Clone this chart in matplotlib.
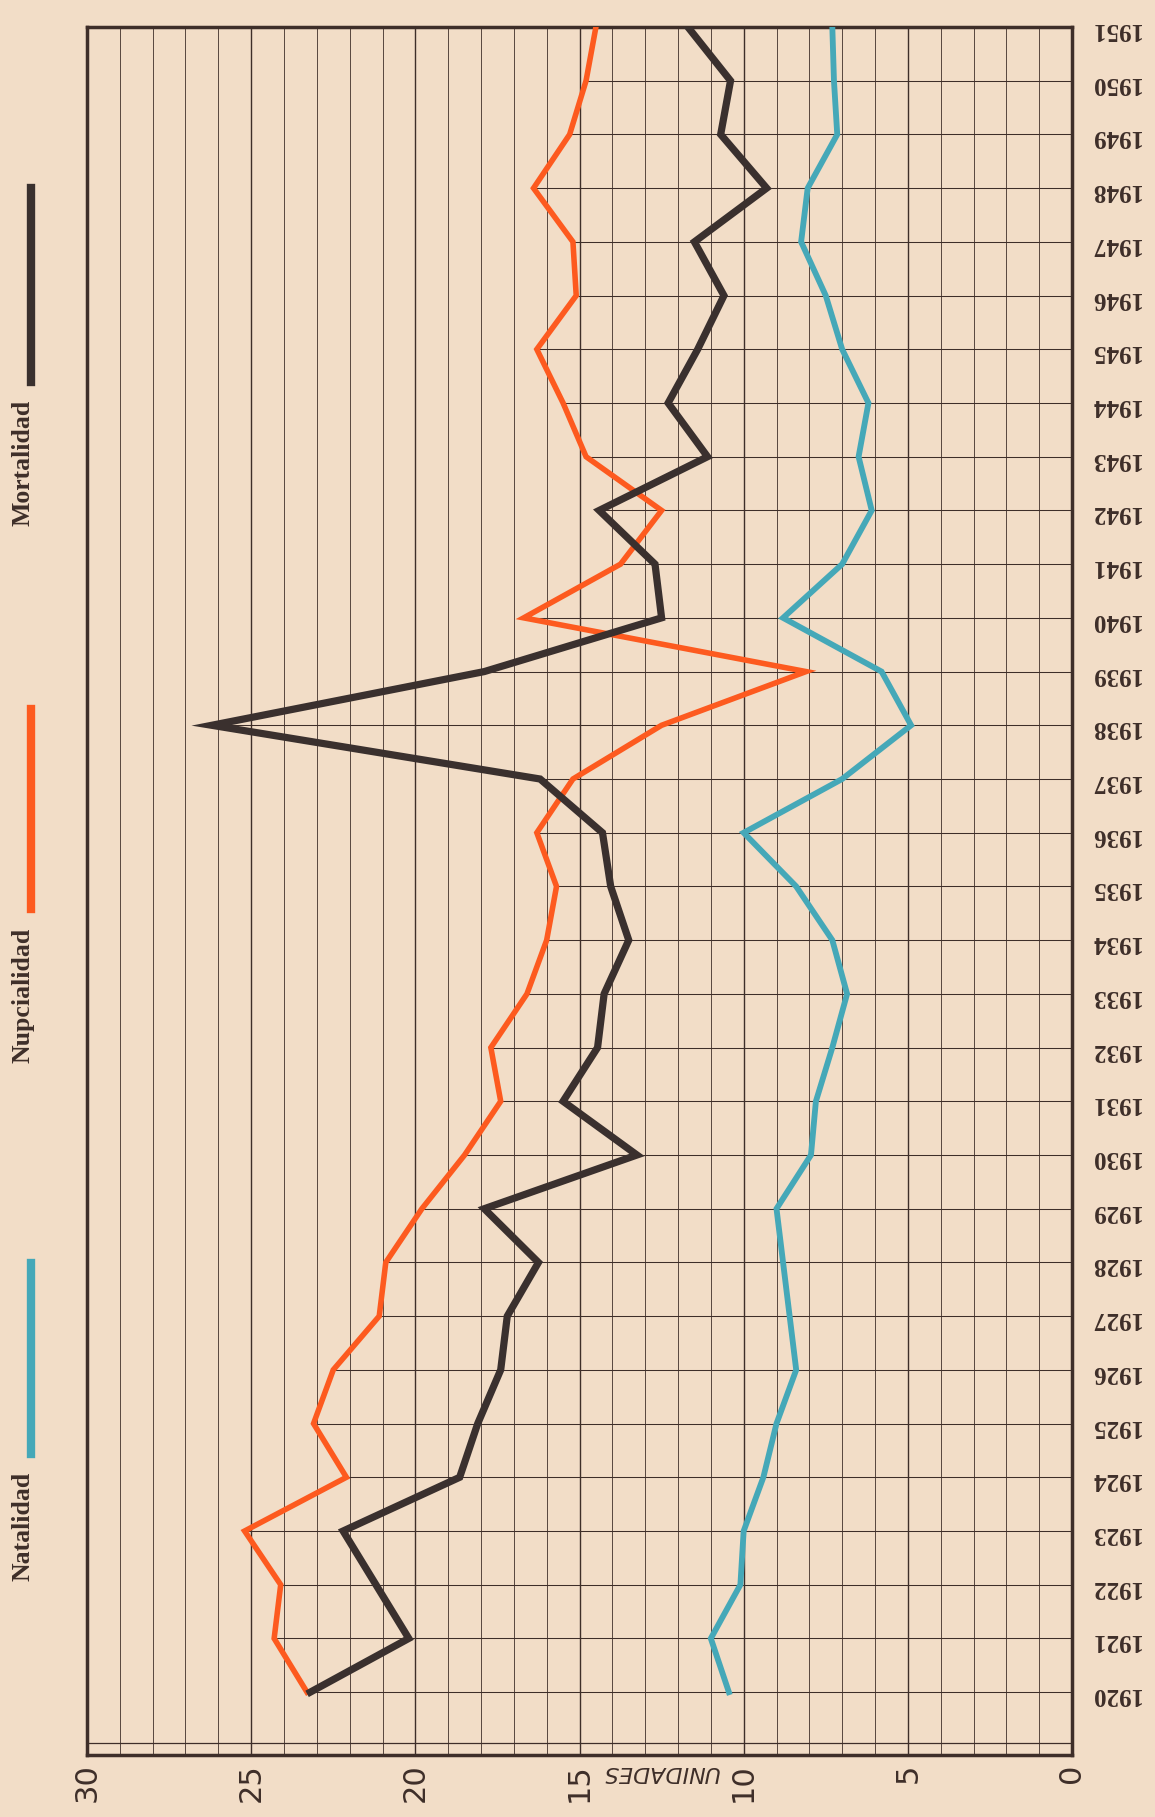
import numpy as np
import matplotlib.pyplot as plt
from matplotlib.lines import Line2D

years = list(range(1920, 1952))
natalidad = [10.45, 11.0, 10.1, 10.0, 9.4, 9.0, 8.4, 8.6, 8.8, 9.0,
             7.95, 7.8, 7.3, 6.85, 7.3, 8.4, 10.0, 7.0, 4.9, 5.8,
             8.8, 7.0, 6.1, 6.5, 6.2, 7.0, 7.5, 8.25, 8.05, 7.15,
             7.25, 7.3]
nupcialidad = [23.3, 24.3, 24.1, 25.2, 22.1, 23.1, 22.5, 21.1, 20.9, 19.8,
               18.5, 17.4, 17.7, 16.6, 16.0, 15.7, 16.3, 15.2, 12.5, 8.1,
               16.7, 13.75, 12.5, 14.8, 15.5, 16.3, 15.1, 15.2, 16.4, 15.3,
               14.8, 14.5]
mortalidad = [23.2, 20.2, 21.2, 22.2, 18.65, 18.1, 17.4, 17.2, 16.25, 17.9,
              13.25, 15.5, 14.45, 14.25, 13.5, 14.05, 14.3, 16.2, 26.2, 17.9,
              12.5, 12.7, 14.4, 11.1, 12.3, 11.4, 10.6, 11.5, 9.3, 10.7,
              10.4, 11.7]

series_names = ['Natalidad', 'Nupcialidad', 'Mortalidad']
value_ticks = [30, 25, 20, 15, 10, 5, 0]

paper = '#f2ddc7'
ink = '#3e2e29'
teal = '#45a8b8'
orange = '#fd5a1f'
black = '#3a302e'
colors = [teal, orange, black]

W, H = 1155, 1817
fig = plt.figure(figsize=(W / 100, H / 100), dpi=100, facecolor=paper)
ax = fig.add_axes([87 / W, 1 - 1755 / H, (1072 - 87) / W, (1755 - 27) / H])
ax.set_facecolor(paper)
ax.set_xlim(30, 0)
ax.set_ylim(1918.83, 1951)

# grid: every unit, a bit heavier every 5
for v in range(1, 30):
    ax.axvline(v, color=ink, lw=1.0 if v % 5 == 0 else 0.6, zorder=1)

# year lines only run from the axis up to the highest series
top = np.max([natalidad, nupcialidad, mortalidad], axis=0)
ax.hlines(years[:-1], 0, top[:-1], color=ink, lw=0.75, zorder=1)
ax.axhline(1919.05, color=ink, lw=0.9, zorder=1)

for s in ax.spines.values():
    s.set_color(ink)
    s.set_linewidth(2.5)

for vals, c, lw in zip([natalidad, nupcialidad, mortalidad], colors, [4.2, 4.0, 5.2]):
    ax.plot(vals, years, color=c, lw=lw, solid_joinstyle='miter', zorder=3)

ax.yaxis.tick_right()
ax.set_yticks(years)
ax.set_yticklabels([str(y) for y in years], rotation=180, fontsize=18,
                   family='Liberation Serif', weight='bold', color=ink)
ax.tick_params(axis='y', length=0, pad=13)

ax.set_xticks(value_ticks)
ax.set_xticklabels([str(v) for v in value_ticks], rotation=90, fontsize=22,
                   family='DejaVu Sans', color=ink)
ax.tick_params(axis='x', length=0, pad=6)

ax.text(12.55, -0.0098, 'UNIDADES', transform=ax.get_xaxis_transform(),
        rotation=180, style='italic', fontsize=16, ha='center', va='center',
        color=ink, family='DejaVu Sans')

# legend on the left edge
text_y = [1526, 995, 463]
seg_y = [(1263, 1454), (709, 909), (188, 382)]
for name, c, ty, (y0, y1) in zip(series_names, colors, text_y, seg_y):
    fig.text(23 / W, 1 - ty / H, name, rotation=90, ha='center', va='center',
             fontsize=18.5, family='Liberation Serif', weight='bold', color=ink)
    fig.add_artist(Line2D([31 / W, 31 / W], [1 - y0 / H, 1 - y1 / H], color=c,
                          lw=6, transform=fig.transFigure))

fig.savefig('out.png', dpi=100, facecolor=paper)
